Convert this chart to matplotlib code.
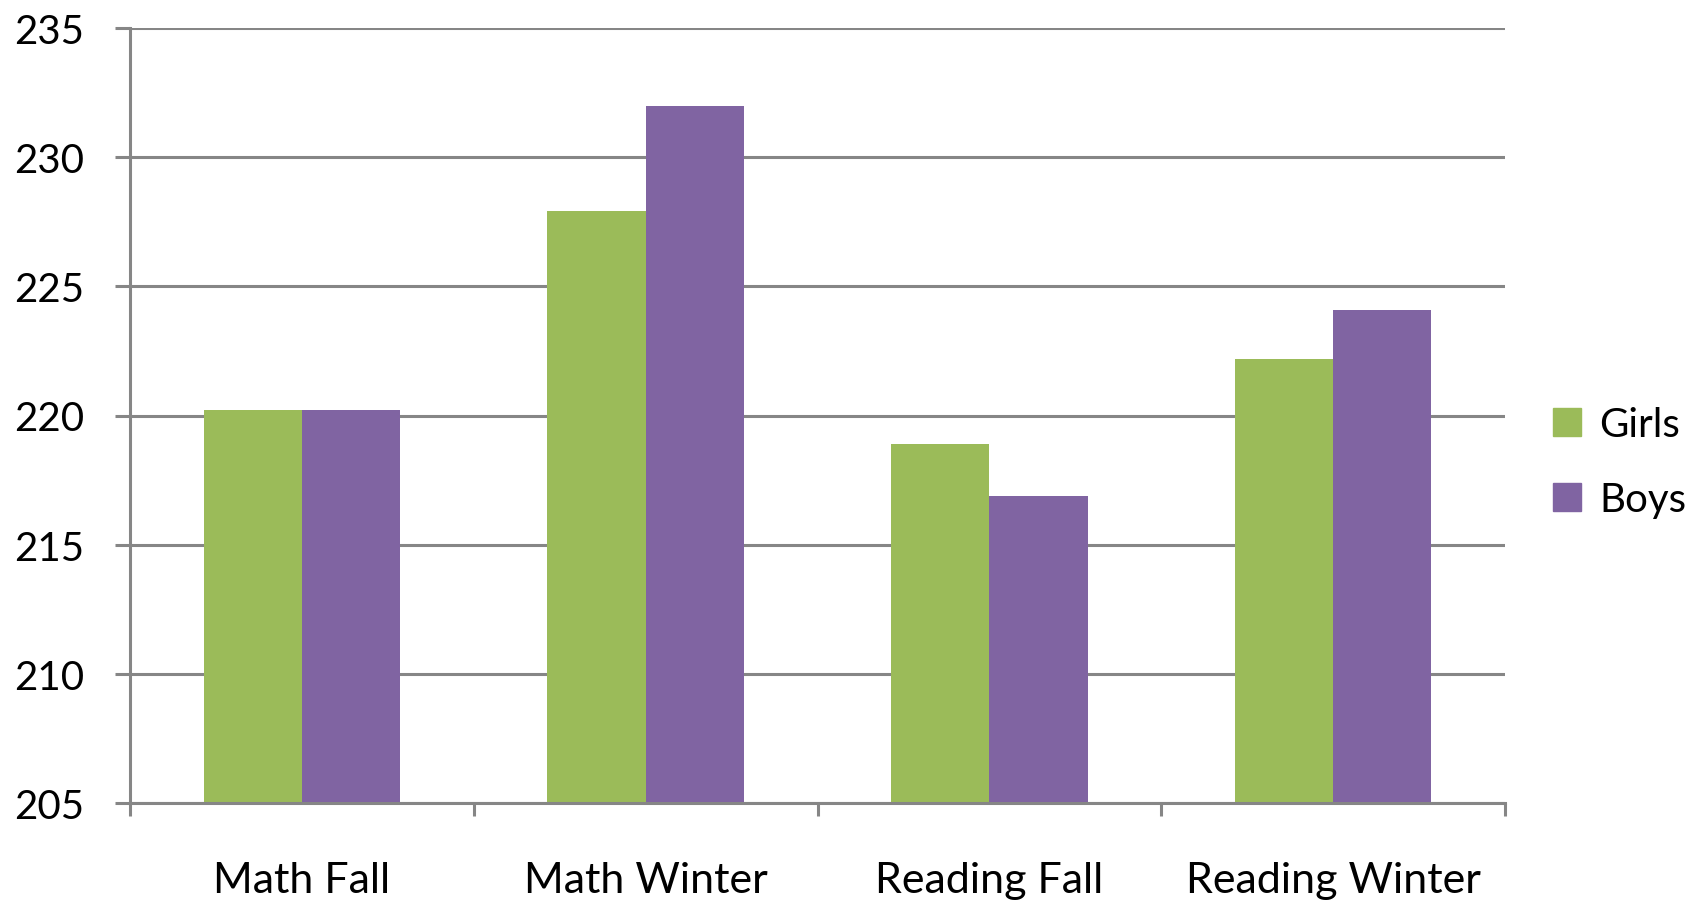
import numpy as np
import matplotlib
matplotlib.use("Agg")
import matplotlib.pyplot as plt
from matplotlib.patches import Patch

# Chart data
categories = ["Math Fall", "Math Winter", "Reading Fall", "Reading Winter"]
girls = [220.2, 227.9, 218.9, 222.2]
boys = [220.2, 232.0, 216.9, 224.1]
y_ticks = [205, 210, 215, 220, 225, 230, 235]

green = "#9BBB59"
purple = "#8064A2"
grid_gray = "#868686"

plt.rcParams["font.family"] = ["Lato", "DejaVu Sans"]

fig = plt.figure(figsize=(17.04, 9.03), dpi=100)
ax = fig.add_axes([130 / 1704, 99 / 903, (1505 - 130) / 1704, (804 - 29) / 903])

x = np.arange(len(categories))
w = 1 / 3.5
ax.bar(x - w / 2, np.array(girls) - 205, w, bottom=205, color=green, label="Girls", zorder=3)
ax.bar(x + w / 2, np.array(boys) - 205, w, bottom=205, color=purple, label="Boys", zorder=3)

ax.set_xlim(-0.5, len(categories) - 0.5)
ax.set_ylim(205, 235)
ax.set_yticks(y_ticks)
ax.set_yticklabels([str(t) for t in y_ticks], fontsize=29)

# category boundaries as ticks, labels at centres
ax.set_xticks(np.arange(len(categories) + 1) - 0.5)
ax.set_xticklabels([])
ax.set_xticks(x, minor=True)
ax.set_xticklabels(categories, minor=True, fontsize=31)
ax.tick_params(axis="x", which="minor", length=0, pad=42)
ax.tick_params(axis="x", which="major", length=9.4, width=2.2, color=grid_gray)
ax.tick_params(axis="y", length=10.8, width=2.2, color=grid_gray, pad=22)

ax.grid(axis="y", color=grid_gray, linewidth=2.2, zorder=0)
for side in ["top", "right"]:
    ax.spines[side].set_visible(False)
for side in ["left", "bottom"]:
    ax.spines[side].set_color(grid_gray)
    ax.spines[side].set_linewidth(2.2)
    ax.spines[side].set_zorder(4)

handles = [Patch(color=green, label="Girls"), Patch(color=purple, label="Boys")]
fig.legend(handles=handles, loc="center left", bbox_to_anchor=(1517 / 1704, 440 / 903),
           frameon=False, fontsize=29, handlelength=0.7, handleheight=0.7,
           handletextpad=0.45, labelspacing=0.95)

fig.savefig("out.png", dpi=100)
